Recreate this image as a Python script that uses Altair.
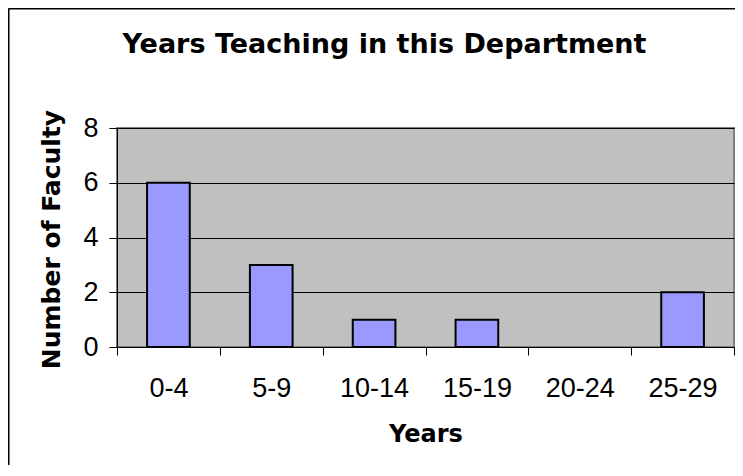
import altair as alt
import pandas as pd

categories = ["0-4", "5-9", "10-14", "15-19", "20-24", "25-29"]
faculty = [6, 3, 1, 1, 0, 2]
y_ticks = [0, 2, 4, 6, 8]
title_text = "Years Teaching in this Department"
x_title = "Years"
y_title = "Number of Faculty"

df = pd.DataFrame({"Years": categories, "Faculty": faculty})

W, H = 617, 219

bars = alt.Chart(df).mark_bar(
    color="#9999FF", stroke="black", strokeWidth=2,
    width=alt.RelativeBandSize(0.415)
).encode(
    x=alt.X("Years:N", sort=categories,
            scale=alt.Scale(paddingInner=0, paddingOuter=0),
            axis=alt.Axis(
                title=x_title, labelAngle=0, tickBand="extent", tickSize=8,
                tickColor="black", domainColor="black", domainWidth=1,
                labelFont="Liberation Sans", labelFontSize=27, labelColor="black",
                labelBaseline="alphabetic", labelPadding=41,
                titleFont="DejaVu Sans", titleFontSize=24, titleFontWeight="bold",
                titleColor="black", titleX=W / 2, titleY=94,
                titleBaseline="alphabetic", titleAlign="center", grid=False)),
    y=alt.Y("Faculty:Q",
            scale=alt.Scale(domain=[0, 8], nice=False),
            axis=alt.Axis(
                values=y_ticks, title=y_title, grid=True, gridColor="black",
                gridWidth=1, tickSize=8, tickColor="black", domainColor="black",
                labelFont="Liberation Sans", labelFontSize=27, labelColor="black",
                labelPadding=11, labelBaseline="middle",
                titleFont="DejaVu Sans", titleFontSize=25, titleFontWeight="bold",
                titleColor="black", titleAngle=270, titleX=-66, titleY=111,
                titleBaseline="middle", titleAlign="center")),
    strokeOpacity=alt.condition("datum.Faculty > 0", alt.value(1), alt.value(0)),
)

frame_src = pd.DataFrame({"a": [0]})
frame_top = alt.Chart(frame_src).mark_rule(color="black", strokeWidth=2).encode(
    x=alt.value(-108.5), x2=alt.value(W + 1), y=alt.value(-119.5)
)
frame_left = alt.Chart(frame_src).mark_rule(color="black", strokeWidth=2).encode(
    x=alt.value(-108.5), y=alt.value(-119.5), y2=alt.value(H + 118)
)

title = alt.Chart(pd.DataFrame({"t": [title_text]})).mark_text(
    font="DejaVu Sans", fontSize=27, fontWeight="bold", color="black",
    align="center", baseline="alphabetic"
).encode(
    x=alt.value(267.5), y=alt.value(-75), text="t:N"
)

chart = alt.layer(frame_top, frame_left, bars, title).properties(
    width=W, height=H, autosize="none",
    padding={"left": 109, "top": 120, "right": 1, "bottom": 118},
    background="white",
).configure_view(fill="#C0C0C0", stroke="#808080", strokeWidth=2)

chart.save("out.html", embed_options={"renderer": "svg", "actions": False})
